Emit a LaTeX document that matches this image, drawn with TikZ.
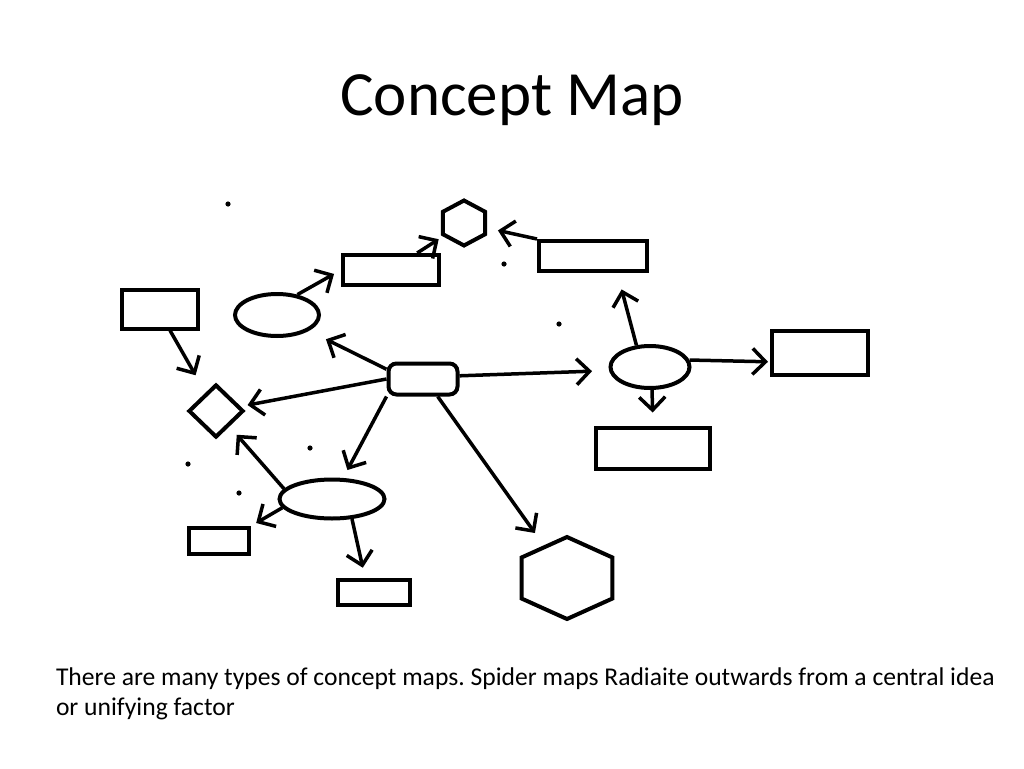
\documentclass[tikz,border=0pt]{standalone}
\usepackage{fontspec}
\setmainfont{Carlito}
\usetikzlibrary{arrows.meta,shapes.geometric}
\definecolor{ink}{HTML}{000000}
\tikzset{>={Straight Barb[length=13pt,width=26pt]},line width=4pt,
  every node/.style={draw=ink,inner sep=0pt,line width=4pt},
  box/.style={rectangle},
  oval/.style={ellipse},
  hexa/.style={regular polygon,regular polygon sides=6,shape border rotate=30},
  kite/.style={diamond},
  link/.style={->,draw=ink,line width=3.5pt},
  speck/.style={fill=ink},
  caption/.style={draw=none,anchor=west}}
\begin{document}
\frenchspacing
\begin{tikzpicture}[x=1pt,y=-1pt]
\useasboundingbox (0,0) rectangle (1024,768);
% title and footnote
\node[caption,anchor=base,font=\fontsize{63}{70}\selectfont] (title) at (512,115) {Concept Map};
\node[caption,anchor=base west,align=left,font=\fontsize{25.6}{30}\selectfont] (note) at (54,685)
  {There are many types of concept maps. Spider maps Radiaite outwards from a central idea};
\node[caption,anchor=base west,font=\fontsize{25.6}{30}\selectfont] (note2) at (54,715)
  {or unifying factor};
% the hub and the shapes round it
\node[box,rounded corners=8pt,minimum width=69pt,minimum height=31pt] (hub) at (423,379) {};
\node[box,minimum width=76pt,minimum height=39pt] (r1) at (160,309) {};
\node[oval,minimum width=84pt,minimum height=42pt] (e1) at (277,315) {};
\node[box,minimum width=96pt,minimum height=30pt] (r2) at (391,270) {};
\node[hexa,minimum size=45pt,xscale=1.08] (h1) at (464,223) {};
\node[box,minimum width=108pt,minimum height=30pt] (r3) at (593,256) {};
\node[oval,minimum width=79pt,minimum height=42pt] (e2) at (650,367) {};
\node[box,minimum width=96pt,minimum height=44pt] (r4) at (820,353) {};
\node[box,minimum width=114pt,minimum height=41pt] (r5) at (653,448) {};
\node[kite,minimum width=55pt,minimum height=53pt] (d1) at (216,411) {};
\node[oval,minimum width=105pt,minimum height=39pt] (e3) at (332,499) {};
\node[box,minimum width=60pt,minimum height=26pt] (r6) at (219,541) {};
\node[box,minimum width=72pt,minimum height=25pt] (r7) at (374,592) {};
\node[hexa,minimum size=82pt,xscale=1.28] (h2) at (567,578) {};
% connectors
\draw[link,shorten >=20pt] (r1.-65) -- (d1);
\draw[link,shorten >=8pt] (e1.45) -- (r2.west);
\draw[link,shorten >=5pt] (r2.33) -- (h1);
\draw[link,shorten >=11pt] (r3.north west) -- (h1);
\draw[link,shorten >=19pt] (hub.165) -- (e1);
\draw[link,shorten >=7pt] (hub.west) -- (d1);
\draw[link,shorten >=9pt] (hub.south west) -- (e3);
\draw[link,shorten >=17pt] (hub.5) -- (e2.185);
\draw[link,shorten >=15pt] (hub.-50) -- (h2);
\draw[link,shorten >=17pt] (e2.122) -- (r3.-35);
\draw[link,shorten >=2pt] (e2.10) -- (r4.190);
\draw[link,shorten >=13pt] (e2.-85) -- (r5.north);
\draw[link,shorten >=11pt] (e3.168) -- (d1);
\draw[link,shorten >=6pt] (e3.190) -- (r6.north east);
\draw[link,shorten >=10pt] (e3.-45) -- (r7.122);
% stray pen marks
\foreach \x/\y in {228/204,504/264,559/324,310/448,188/464,239/493}
  \fill[speck] (\x,\y) circle (2.6);
\end{tikzpicture}
\end{document}
